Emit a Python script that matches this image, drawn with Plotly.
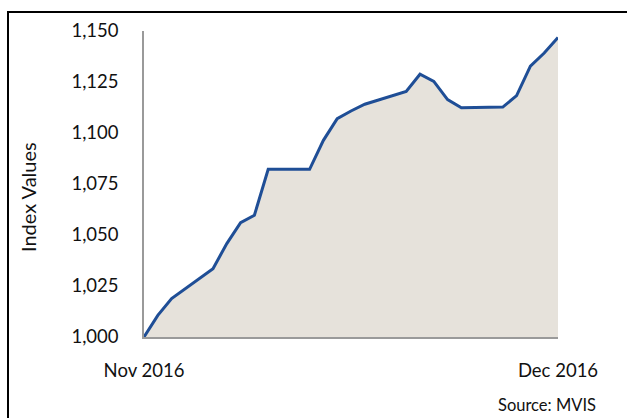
import plotly.graph_objects as go

dates = ["2016-11-30", "2016-12-01", "2016-12-02", "2016-12-05", "2016-12-06",
         "2016-12-07", "2016-12-08", "2016-12-09", "2016-12-12", "2016-12-13",
         "2016-12-14", "2016-12-15", "2016-12-16", "2016-12-19", "2016-12-20",
         "2016-12-21", "2016-12-22", "2016-12-23", "2016-12-26", "2016-12-27",
         "2016-12-28", "2016-12-29", "2016-12-30"]
index_values = [1000.0, 1010.6, 1018.8, 1033.5, 1045.8,
                1056.1, 1059.7, 1082.2, 1082.2, 1096.4,
                1107.0, 1110.8, 1114.1, 1120.4, 1128.8,
                1125.3, 1116.4, 1112.4, 1112.7, 1118.3,
                1132.8, 1139.2, 1146.8]
x_tick_vals = ["2016-11-30", "2016-12-30"]
x_tick_text = ["Nov 2016", "Dec 2016"]
y_tick_vals = [1000, 1025, 1050, 1075, 1100, 1125, 1150]

W, H = 627, 418
ML, MR, MT, MB = 144, 69, 31, 81
PW, PH = W - ML - MR, H - MT - MB

def px_x(p):
    return (p - ML) / PW

def px_y(p):
    return (H - MB - p) / PH

FONT = "Lato, Carlito, Calibri, sans-serif"

fig = go.Figure()
fig.add_trace(go.Scatter(
    x=dates, y=index_values, mode="lines",
    line=dict(color="#1F4E96", width=3),
    fill="tozeroy", fillcolor="#E6E2DB",
    hoverinfo="skip", showlegend=False,
))

fig.update_layout(
    width=W, height=H,
    margin=dict(l=ML, r=MR, t=MT, b=MB, pad=0),
    paper_bgcolor="white", plot_bgcolor="white",
    font=dict(family=FONT, size=18.5, color="#111111"),
    xaxis=dict(
        type="date", range=[dates[0], dates[-1]],
        tickmode="array", tickvals=x_tick_vals, ticktext=x_tick_text,
        showgrid=False, zeroline=False, ticks="",
        showline=True, linecolor="#9a9a9a", linewidth=2,
        ticklabelstandoff=16, tickfont=dict(size=18.5),
    ),
    yaxis=dict(
        range=[1000, 1150], tickmode="array", tickvals=y_tick_vals,
        tickformat=",d",
        showgrid=False, zeroline=False, ticks="",
        showline=True, linecolor="#9a9a9a", linewidth=1.5,
        ticklabelstandoff=20, tickfont=dict(size=18.5),
    ),
    shapes=[dict(
        type="path", xref="paper", yref="paper",
        path=f"M {px_x(8)},{px_y(430)} L {px_x(8)},{px_y(12)} L {px_x(640)},{px_y(12)}",
        line=dict(color="black", width=2),
    )],
    annotations=[
        dict(text="Index Values", xref="paper", yref="paper",
             x=px_x(28), y=px_y(197), textangle=-90, showarrow=False,
             font=dict(size=20), xanchor="center", yanchor="middle"),
        dict(text="Source: MVIS", xref="paper", yref="paper",
             x=px_x(598), y=px_y(405), showarrow=False,
             font=dict(size=16.5), xanchor="right", yanchor="middle"),
    ],
)

fig.write_html("out.html", config={"displayModeBar": False},
               post_script="document.body.style.margin='0';")
